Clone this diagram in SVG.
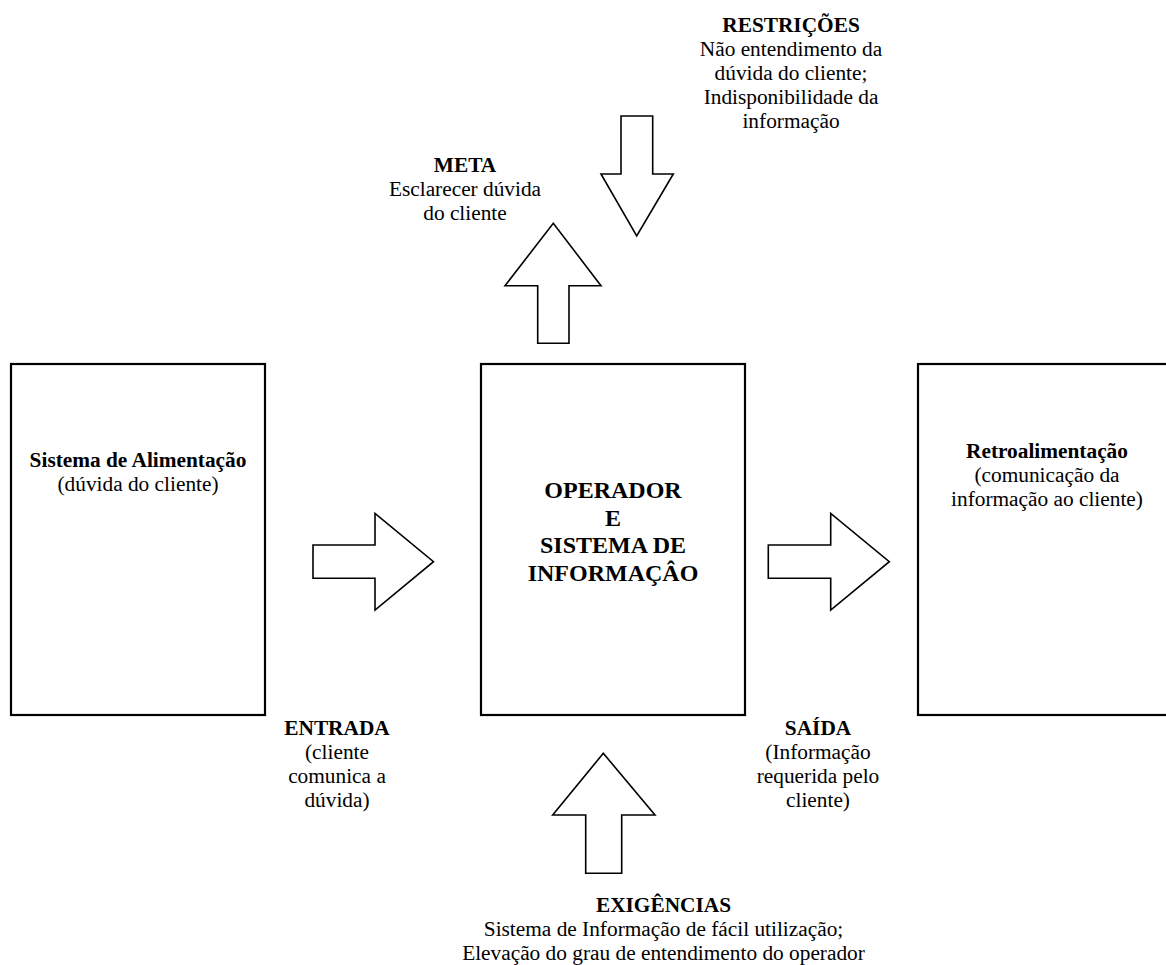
<svg xmlns="http://www.w3.org/2000/svg" width="1166" height="965" viewBox="0 0 1166 965" font-family="'Liberation Serif', 'Times New Roman', Times, 'DejaVu Serif', serif">
<style>
.box{fill:#fff;stroke:#000;stroke-width:2.2}
.arr{fill:#fff;stroke:#000;stroke-width:1.6;stroke-linejoin:miter}
text{font-family:'Liberation Serif', 'Times New Roman', Times, 'DejaVu Serif', serif;font-size:21.33px;fill:#000;text-anchor:middle}
.b{font-weight:bold}
.big{font-weight:bold;font-size:24px}
</style>
<rect width="1166" height="965" fill="#fff"/>
<g id="connectors">
<polygon class="arr" points="313,545 375,545 375,513.5 433.5,561.7 375,610 375,578.3 313,578.3"/>
<polygon class="arr" points="768.3,545 830.7,545 830.7,513.5 889.3,561.7 830.7,610 830.7,578.3 768.3,578.3"/>
<polygon class="arr" points="537.7,343.3 537.7,285.7 505,285.7 553.3,223.3 601,285.7 569,285.7 569,343.3"/>
<polygon class="arr" points="621,116 652.7,116 652.7,174 673.3,174 636.7,236 601,174 621,174"/>
<polygon class="arr" points="585.7,873.3 585.7,815 552.7,815 603.3,753.3 655,815 621.7,815 621.7,873.3"/>
</g>
<g id="sistema-alimentacao">
<rect class="box" x="11" y="364" width="254" height="351"/>
<text class="b" x="138" y="467">Sistema de Alimentação</text>
<text x="138" y="491">(dúvida do cliente)</text>
</g>
<g id="operador">
<rect class="box" x="481" y="364" width="264" height="351"/>
<text class="big" x="613" y="498.3">OPERADOR</text>
<text class="big" x="613" y="525.8">E</text>
<text class="big" x="613" y="553.3">SISTEMA DE</text>
<text class="big" x="613" y="580.8">INFORMAÇÂO</text>
</g>
<g id="retroalimentacao">
<rect class="box" x="918" y="364" width="260" height="351"/>
<text class="b" x="1047" y="458">Retroalimentação</text>
<text x="1047" y="482">(comunicação da</text>
<text x="1047" y="506">informação ao cliente)</text>
</g>
<g id="restricoes">
<text class="b" x="791" y="32">RESTRIÇÕES</text>
<text x="791" y="56">Não entendimento da</text>
<text x="791" y="80">dúvida do cliente;</text>
<text x="791" y="104">Indisponibilidade da</text>
<text x="791" y="128">informação</text>
</g>
<g id="meta">
<text class="b" x="465" y="171.5">META</text>
<text x="465" y="195.5">Esclarecer dúvida</text>
<text x="465" y="219.5">do cliente</text>
</g>
<g id="entrada">
<text class="b" x="337" y="735">ENTRADA</text>
<text x="337" y="759">(cliente</text>
<text x="337" y="783">comunica a</text>
<text x="337" y="807">dúvida)</text>
</g>
<g id="saida">
<text class="b" x="818" y="735">SAÍDA</text>
<text x="818" y="759">(Informação</text>
<text x="818" y="783">requerida pelo</text>
<text x="818" y="807">cliente)</text>
</g>
<g id="exigencias">
<text class="b" x="663.5" y="912">EXIGÊNCIAS</text>
<text x="663.5" y="936">Sistema de Informação de fácil utilização;</text>
<text x="663.5" y="960">Elevação do grau de entendimento do operador</text>
</g>
</svg>
